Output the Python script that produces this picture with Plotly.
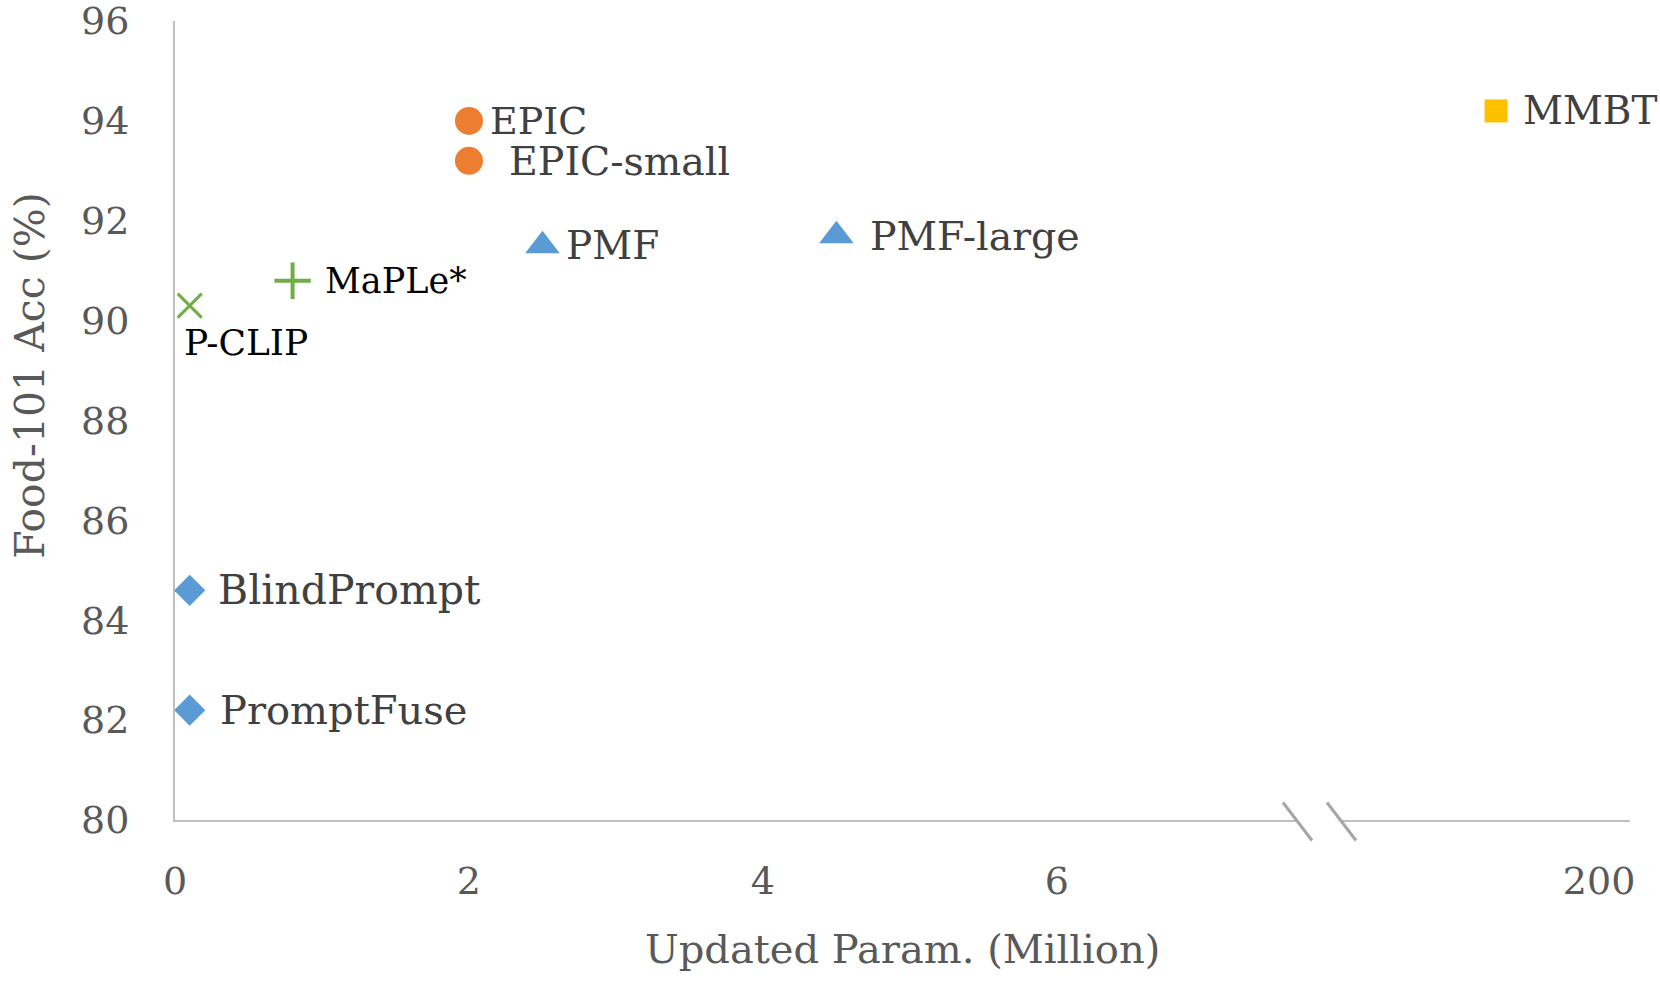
import plotly.graph_objects as go

# ---- data ----
methods = ["EPIC", "EPIC-small", "PMF", "PMF-large", "MaPLe*", "P-CLIP",
           "BlindPrompt", "PromptFuse", "MMBT"]
params_million = [2.0, 2.0, 2.5, 4.5, 0.8, 0.1, 0.1, 0.1, 180.0]
food101_acc = [94.0, 93.2, 91.5, 91.7, 90.8, 90.3, 84.6, 82.2, 94.2]
x_ticks_left = [0, 2, 4, 6]
x_ticks_right = [200]
y_ticks = [80, 82, 84, 86, 88, 90, 92, 94, 96]

# ---- styles ----
style = {
    "EPIC":        dict(symbol="circle", color="#ED7D31", size=28, dx=19, dy=0, tc="#404040", fs=38),
    "EPIC-small":  dict(symbol="circle", color="#ED7D31", size=28, dx=38, dy=0, tc="#404040", fs=39.5),
    "PMF":         dict(symbol="triangle-up", color="#5B9BD5", size=30, dx=22, dy=0, tc="#404040", fs=39),
    "PMF-large":   dict(symbol="triangle-up", color="#5B9BD5", size=30, dx=32, dy=0, tc="#404040", fs=39.5),
    "MaPLe*":      dict(symbol="cross-thin", color="#70AD47", size=26, dx=30, dy=0, tc="#000000", fs=35),
    "P-CLIP":      dict(symbol="x-thin", color="#70AD47", size=24, dx=-8, dy=37, tc="#000000", fs=36),
    "BlindPrompt": dict(symbol="diamond", color="#5B9BD5", size=24, dx=26, dy=0, tc="#404040", fs=41),
    "PromptFuse":  dict(symbol="diamond", color="#5B9BD5", size=24, dx=28, dy=0, tc="#404040", fs=40),
    "MMBT":        dict(symbol="square", color="#FFC000", size=23, dx=25, dy=0, tc="#404040", fs=39),
}
FONT = "DejaVu Serif"
AXIS_COL = "#BFBFBF"
BREAK = 7.0  # values above this are drawn on the right-hand axis segment

W, H = 1660, 984
# plot area in page pixel coordinates
P_LEFT, P_RIGHT, P_TOP, P_BOTTOM = 175, 1630, 21, 820.5
ML, MR = P_LEFT, W - P_RIGHT
MT, MB = P_TOP, H - P_BOTTOM
PW = P_RIGHT - P_LEFT
PH = P_BOTTOM - P_TOP

def px_to_paper_x(px):
    return (px - P_LEFT) / PW

def px_to_paper_y(py):
    return (P_BOTTOM - py) / PH

left_end = px_to_paper_x(1297)
right_start = px_to_paper_x(1342)

fig = go.Figure()
annotations = []
for m, xv, yv in zip(methods, params_million, food101_acc):
    s = style[m]
    on_right = xv > BREAK
    xa = "x2" if on_right else "x"
    ya = "y2" if on_right else "y"
    line_w = 4 if s["symbol"] == "cross-thin" else (3 if "thin" in s["symbol"] else 0)
    fig.add_trace(go.Scatter(
        x=[xv], y=[yv], mode="markers", xaxis=xa, yaxis=ya, showlegend=False,
        marker=dict(symbol=s["symbol"], size=s["size"], color=s["color"],
                    line=dict(width=line_w, color=s["color"])),
        hoverinfo="skip"))
    annotations.append(dict(
        x=xv, y=yv, xref=xa, yref=ya, text=m, showarrow=False,
        xanchor="left", yanchor="middle", xshift=s["dx"], yshift=-s["dy"],
        font=dict(family=FONT, size=s["fs"], color=s["tc"])))

annotations.append(dict(
    text="Updated Param. (Million)", xref="paper", yref="paper",
    x=px_to_paper_x(902), y=px_to_paper_y(950), xanchor="center", yanchor="middle",
    showarrow=False, font=dict(family=FONT, size=40, color="#595959")))
annotations.append(dict(
    text="Food-101 Acc (%)", xref="paper", yref="paper",
    x=px_to_paper_x(30), y=px_to_paper_y(376), xanchor="center", yanchor="middle",
    textangle=-90, showarrow=False, font=dict(family=FONT, size=41, color="#595959")))

shapes = []
for x0, x1 in [(1283, 1312), (1327, 1356)]:
    shapes.append(dict(type="line", xref="paper", yref="paper",
                       x0=px_to_paper_x(x0), x1=px_to_paper_x(x1),
                       y0=px_to_paper_y(803), y1=px_to_paper_y(841),
                       line=dict(color="#A6A6A6", width=3)))

tickfont = dict(family=FONT, size=38, color="#595959")
fig.update_layout(
    width=W, height=H,
    margin=dict(l=ML, r=MR, t=MT, b=MB, autoexpand=False),
    paper_bgcolor="white", plot_bgcolor="white",
    xaxis=dict(domain=[0, left_end], range=[0, 1122 / 146.98],
               tickvals=x_ticks_left, showgrid=False, zeroline=False,
               showline=True, linecolor=AXIS_COL, linewidth=2,
               ticks="", tickfont=tickfont, ticklabelstandoff=26,
               ticklabeloverflow="allow"),
    xaxis2=dict(domain=[right_start, 1], range=[150.1, 206.0],
                tickvals=x_ticks_right, showgrid=False, zeroline=False,
                showline=True, linecolor=AXIS_COL, linewidth=2,
                ticks="", tickfont=tickfont, ticklabelstandoff=26, anchor="y2",
                ticklabeloverflow="allow"),
    yaxis=dict(range=[80, 96.001], tickvals=y_ticks, showgrid=False, zeroline=False,
               showline=True, linecolor=AXIS_COL, linewidth=2, ticks="",
               tickfont=tickfont, ticklabelstandoff=36, ticklabeloverflow="allow"),
    yaxis2=dict(range=[80, 96.001], anchor="x2", matches="y", visible=False),
    annotations=annotations, shapes=shapes,
)
fig.write_html(
    "out.html",
    config={"displayModeBar": False},
    post_script="document.body.style.margin='0px';document.body.style.overflow='hidden';",
)
